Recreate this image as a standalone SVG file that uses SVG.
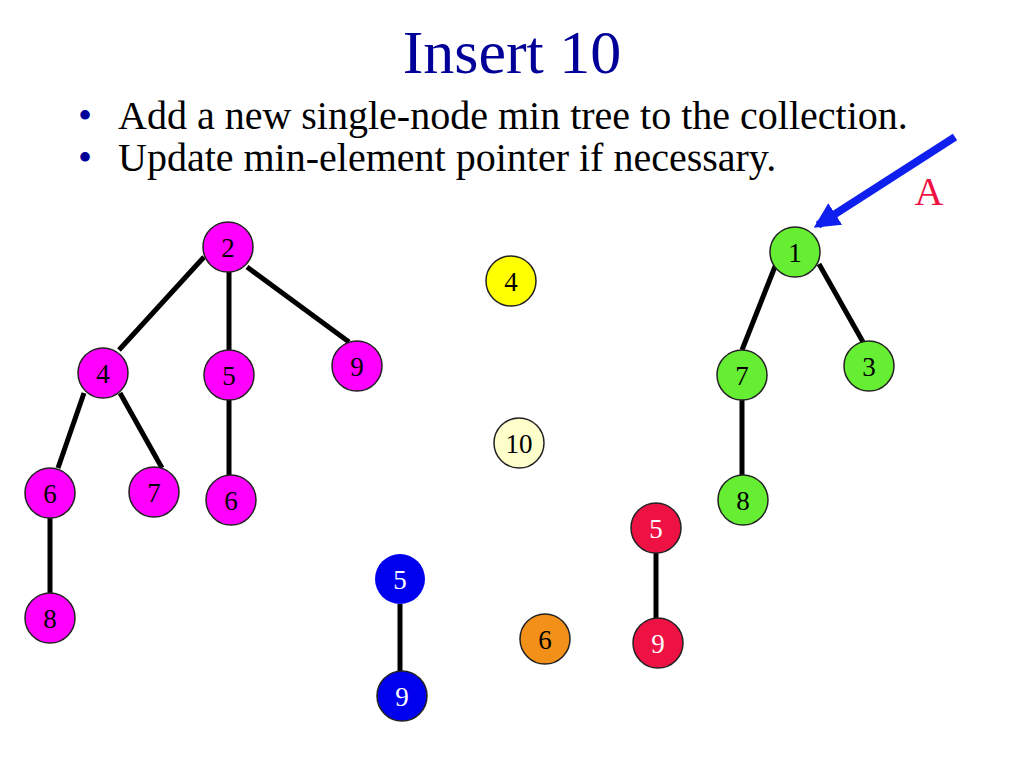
<svg xmlns="http://www.w3.org/2000/svg" width="1024" height="768" viewBox="0 0 1024 768">
<defs>
<style>
.n{stroke:#222;stroke-width:1.5}
.t{font-family:"Liberation Serif","Times New Roman",serif;font-size:27px;text-anchor:middle;fill:#000}
.w{fill:#fff}
.e{stroke:#000;stroke-width:5;fill:none}
.mg{fill:#FF00FF}.gr{fill:#66EE33}.bl{fill:#0000EE}.rd{fill:#EE1144}
.s{font-family:"Liberation Serif","Times New Roman",serif}
</style>
<marker id="ah" viewBox="0 0 10 10" refX="8" refY="5" markerWidth="3.2" markerHeight="3.2" orient="auto" markerUnits="strokeWidth">
<path d="M0,0 L10,5 L0,10 z" fill="#0F1FEE"/>
</marker>
</defs>
<rect width="1024" height="768" fill="#fff"/>
<text class="s" x="512" y="73" font-size="62" fill="#000099" text-anchor="middle">Insert 10</text>
<g class="s" font-size="40" fill="#000">
<text x="78" y="129" fill="#000099">•</text><text x="118" y="129">Add a new single-node min tree to the collection.</text>
<text x="78" y="171" fill="#000099">•</text><text x="118" y="171">Update min-element pointer if necessary.</text>
</g>
<g id="connectors">
<line class="e" x1="204" y1="257" x2="119" y2="350"/>
<line class="e" x1="229" y1="272" x2="229" y2="350"/>
<line class="e" x1="247" y1="267" x2="349" y2="342"/>
<line class="e" x1="84" y1="393" x2="58" y2="468"/>
<line class="e" x1="120" y1="393" x2="162" y2="468"/>
<line class="e" x1="229" y1="400" x2="229" y2="475"/>
<line class="e" x1="50" y1="518" x2="50" y2="593"/>
<line class="e" x1="400" y1="604" x2="400" y2="671"/>
<line class="e" x1="656" y1="553" x2="656" y2="620"/>
<line class="e" x1="776" y1="264" x2="742" y2="350"/>
<line class="e" x1="819" y1="264" x2="863" y2="342"/>
<line class="e" x1="742" y1="400" x2="742" y2="475"/>
<line x1="955" y1="137" x2="818" y2="225" stroke="#0F1FEE" stroke-width="8" marker-end="url(#ah)"/>
</g>
<text class="s" x="929" y="205" font-size="40" fill="#EE1144" text-anchor="middle">A</text>
<g id="m2"><circle class="n mg" cx="228" cy="247" r="25"/><text class="t" x="228" y="257">2</text></g>
<g id="m4"><circle class="n mg" cx="103" cy="373" r="25"/><text class="t" x="103" y="383">4</text></g>
<g id="m5"><circle class="n mg" cx="229" cy="375" r="25"/><text class="t" x="229" y="385">5</text></g>
<g id="m9"><circle class="n mg" cx="357" cy="366" r="25"/><text class="t" x="357" y="376">9</text></g>
<g id="m6a"><circle class="n mg" cx="50" cy="493" r="25"/><text class="t" x="50" y="503">6</text></g>
<g id="m7"><circle class="n mg" cx="154" cy="492" r="25"/><text class="t" x="154" y="502">7</text></g>
<g id="m6b"><circle class="n mg" cx="231" cy="500" r="25"/><text class="t" x="231" y="510">6</text></g>
<g id="m8"><circle class="n mg" cx="50" cy="618" r="25"/><text class="t" x="50" y="628">8</text></g>
<g id="y4"><circle class="n" fill="#FFFF00" cx="511" cy="281" r="25"/><text class="t" x="511" y="291">4</text></g>
<g id="n10"><circle class="n" fill="#FFFFCC" cx="519" cy="443" r="25"/><text class="t" x="519" y="453">10</text></g>
<g id="b5"><circle class="bl" cx="400" cy="579" r="25"/><text class="t w" x="400" y="589">5</text></g>
<g id="b9"><circle class="n bl" cx="402" cy="696" r="25"/><text class="t w" x="402" y="706">9</text></g>
<g id="o6"><circle class="n" fill="#F39019" cx="545" cy="639" r="25"/><text class="t" x="545" y="649">6</text></g>
<g id="r5"><circle class="n rd" cx="656" cy="528" r="25"/><text class="t w" x="656" y="538">5</text></g>
<g id="r9"><circle class="n rd" cx="658" cy="643" r="25"/><text class="t w" x="658" y="653">9</text></g>
<g id="g1"><circle class="n gr" cx="795" cy="252" r="25"/><text class="t" x="795" y="262">1</text></g>
<g id="g7"><circle class="n gr" cx="742" cy="375" r="25"/><text class="t" x="742" y="385">7</text></g>
<g id="g3"><circle class="n gr" cx="869" cy="366" r="25"/><text class="t" x="869" y="376">3</text></g>
<g id="g8"><circle class="n gr" cx="743" cy="500" r="25"/><text class="t" x="743" y="510">8</text></g>
</svg>
